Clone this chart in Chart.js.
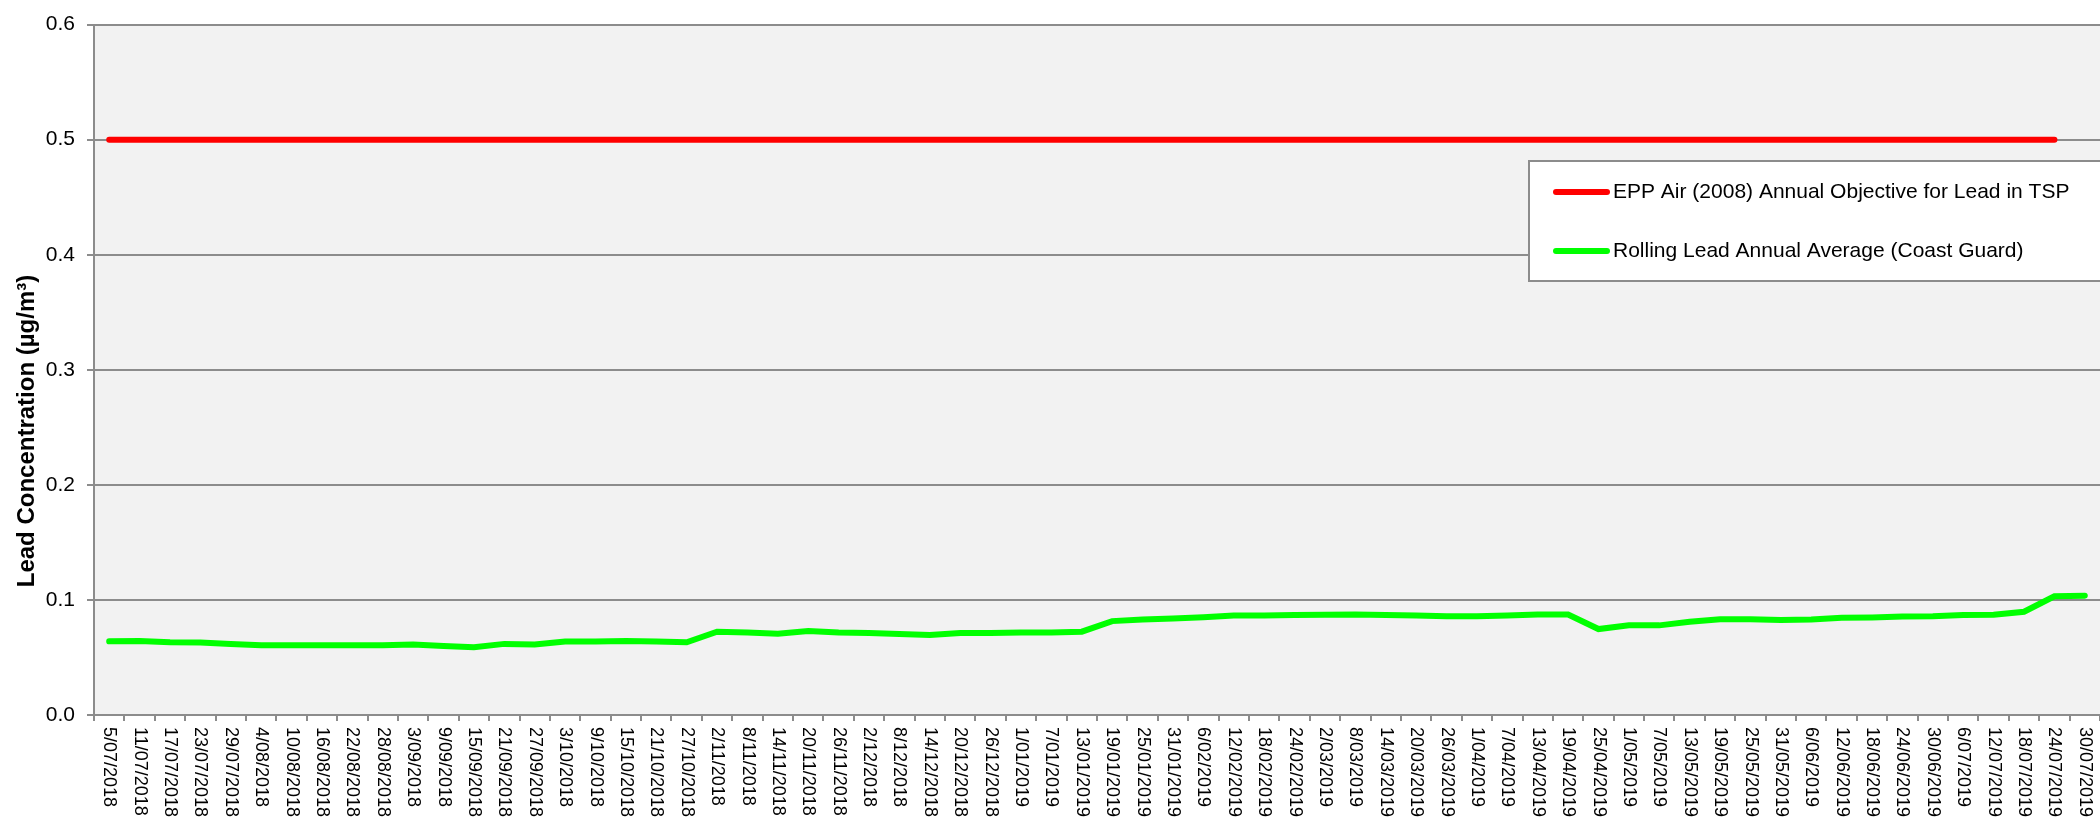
<!DOCTYPE html>
<html>
<head>
<meta charset="utf-8">
<style>
  html, body { margin: 0; padding: 0; background: #ffffff; }
  .chart-container { position: relative; width: 2100px; height: 821px; }
</style>
<script src="https://cdn.jsdelivr.net/npm/chart.js@4.4.1/dist/chart.umd.min.js"></script>
</head>
<body>
<div class="chart-container">
  <canvas id="myChart" width="2100" height="821"></canvas>
</div>
<script>
// sampling dates (every 6 days)
var dateLabels = [
  '5/07/2018', '11/07/2018', '17/07/2018', '23/07/2018', '29/07/2018',
  '4/08/2018', '10/08/2018', '16/08/2018', '22/08/2018', '28/08/2018',
  '3/09/2018', '9/09/2018', '15/09/2018', '21/09/2018', '27/09/2018',
  '3/10/2018', '9/10/2018', '15/10/2018', '21/10/2018', '27/10/2018',
  '2/11/2018', '8/11/2018', '14/11/2018', '20/11/2018', '26/11/2018',
  '2/12/2018', '8/12/2018', '14/12/2018', '20/12/2018', '26/12/2018',
  '1/01/2019', '7/01/2019', '13/01/2019', '19/01/2019', '25/01/2019', '31/01/2019',
  '6/02/2019', '12/02/2019', '18/02/2019', '24/02/2019',
  '2/03/2019', '8/03/2019', '14/03/2019', '20/03/2019', '26/03/2019',
  '1/04/2019', '7/04/2019', '13/04/2019', '19/04/2019', '25/04/2019',
  '1/05/2019', '7/05/2019', '13/05/2019', '19/05/2019', '25/05/2019', '31/05/2019',
  '6/06/2019', '12/06/2019', '18/06/2019', '24/06/2019', '30/06/2019',
  '6/07/2019', '12/07/2019', '18/07/2019', '24/07/2019', '30/07/2019'
];

// EPP Air (2008) objective - last date has no value
var objectiveValues = [
  0.5, 0.5, 0.5, 0.5, 0.5, 0.5, 0.5, 0.5, 0.5, 0.5,
  0.5, 0.5, 0.5, 0.5, 0.5, 0.5, 0.5, 0.5, 0.5, 0.5,
  0.5, 0.5, 0.5, 0.5, 0.5, 0.5, 0.5, 0.5, 0.5, 0.5,
  0.5, 0.5, 0.5, 0.5, 0.5, 0.5, 0.5, 0.5, 0.5, 0.5,
  0.5, 0.5, 0.5, 0.5, 0.5, 0.5, 0.5, 0.5, 0.5, 0.5,
  0.5, 0.5, 0.5, 0.5, 0.5, 0.5, 0.5, 0.5, 0.5, 0.5,
  0.5, 0.5, 0.5, 0.5, 0.5, null
];

// rolling annual average, Coast Guard
var rollingValues = [
  0.064, 0.0644, 0.0632, 0.063, 0.0618, 0.0606, 0.0606, 0.0606, 0.0606, 0.0606,
  0.0612, 0.060, 0.0589, 0.0618, 0.0612, 0.0638, 0.0638, 0.0644, 0.0638, 0.0632,
  0.0724, 0.0716, 0.0707, 0.073, 0.0718, 0.0713, 0.0704, 0.0695, 0.0713, 0.0713,
  0.0718, 0.0718, 0.0724, 0.0816, 0.083, 0.0839, 0.085, 0.0865, 0.0865, 0.0868,
  0.0871, 0.0874, 0.0868, 0.0865, 0.0859, 0.0859, 0.0865, 0.0874, 0.0874, 0.0747,
  0.0779, 0.0779, 0.081, 0.0833, 0.0833, 0.0825, 0.083, 0.0845, 0.0848, 0.0856,
  0.0859, 0.0868, 0.0871, 0.0897, 0.1032, 0.1037
];

var yTicks = [0, 0.1, 0.2, 0.3, 0.4, 0.5, 0.6];

var FONT = 'Arial, "Liberation Sans", sans-serif';
var GRID = '#8c8c8c';

// grey plot area, rotated date labels, axis title and boxed legend
var excelLook = {
  id: 'excelLook',
  beforeDraw: function(chart) {
    var a = chart.chartArea, c = chart.ctx;
    c.save();
    c.fillStyle = '#f2f2f2';
    c.fillRect(a.left, a.top, a.right - a.left, a.bottom - a.top);
    c.restore();
  },
  afterDraw: function(chart) {
    var c = chart.ctx, xs = chart.scales.x, a = chart.chartArea;
    c.save();
    // x labels, reading top to bottom
    c.fillStyle = '#000';
    c.font = '18px ' + FONT;
    c.textAlign = 'left';
    c.textBaseline = 'middle';
    dateLabels.forEach(function(lab, i) {
      c.save();
      c.translate(xs.getPixelForValue(i), a.bottom + 12);
      c.rotate(Math.PI / 2);
      c.fillText(lab, 0, 0);
      c.restore();
    });

    // y title
    c.save();
    c.translate(27, 431);
    c.rotate(-Math.PI / 2);
    c.font = 'bold 24px ' + FONT;
    c.textAlign = 'center';
    c.textBaseline = 'middle';
    c.fillText('Lead Concentration (µg/m³)', 0, 0);
    c.restore();

    // legend
    c.fillStyle = '#ffffff';
    c.strokeStyle = GRID;
    c.lineWidth = 2;
    c.fillRect(1529, 161, 600, 120);
    c.strokeRect(1529, 161, 600, 120);
    c.font = '21px ' + FONT;
    c.textAlign = 'left';
    c.textBaseline = 'middle';
    chart.data.datasets.forEach(function(ds, k) {
      var y = 192 + k * 59;
      c.strokeStyle = ds.borderColor;
      c.lineWidth = 6;
      c.lineCap = 'round';
      c.beginPath();
      c.moveTo(1556, y);
      c.lineTo(1607, y);
      c.stroke();
      c.fillStyle = '#000';
      c.fillText(ds.label, 1613, y);
    });
    c.restore();
  }
};

var ctx = document.getElementById('myChart').getContext('2d');
var chartInstance = new Chart(ctx, {
  type: 'line',
  data: {
    labels: dateLabels,
    datasets: [
      {
        label: 'EPP Air (2008) Annual Objective for Lead in TSP',
        data: objectiveValues,
        borderColor: '#ff0000',
        borderWidth: 6,
        borderCapStyle: 'round',
        pointRadius: 0,
        tension: 0
      },
      {
        label: 'Rolling Lead Annual Average (Coast Guard)',
        data: rollingValues,
        borderColor: '#00ff00',
        borderWidth: 6,
        borderCapStyle: 'round',
        pointRadius: 0,
        tension: 0
      }
    ]
  },
  options: {
    responsive: false,
    animation: false,
    layout: { padding: { top: 19, right: 0, left: 0, bottom: 0 } },
    plugins: {
      legend: { display: false },
      tooltip: { enabled: false }
    },
    scales: {
      x: {
        offset: true,
        grid: {
          offset: true,
          drawOnChartArea: false,
          drawTicks: true,
          tickLength: 6,
          color: GRID,
          lineWidth: 2
        },
        border: { display: true, color: GRID, width: 2 },
        ticks: { display: false, autoSkip: false },
        afterFit: function(scale) { scale.height = 106; }
      },
      y: {
        min: 0,
        max: 0.6,
        afterBuildTicks: function(scale) {
          scale.ticks = yTicks.map(function(v) { return { value: v }; });
        },
        grid: {
          color: GRID,
          lineWidth: 2,
          drawTicks: true,
          tickLength: 7
        },
        border: { display: true, color: GRID, width: 2 },
        ticks: {
          padding: 12,
          color: '#000',
          font: { family: FONT, size: 21 },
          callback: function(v) { return Number(v).toFixed(1); }
        },
        afterFit: function(scale) { scale.width = 94; }
      }
    }
  },
  plugins: [excelLook]
});
</script>
</body>
</html>
